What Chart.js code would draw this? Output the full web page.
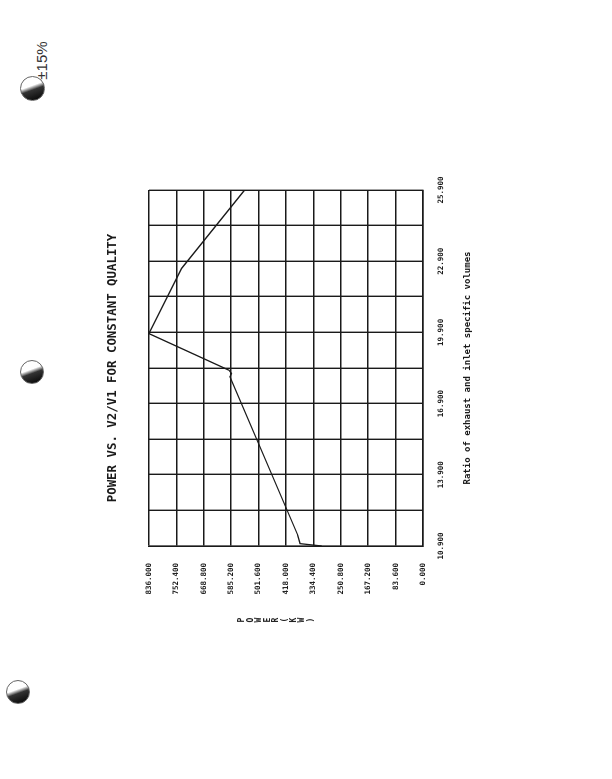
<!DOCTYPE html>
<html>
<head>
<meta charset="utf-8">
<script src="https://cdn.jsdelivr.net/npm/chart.js@4/dist/chart.umd.min.js"></script>
<style>
  html, body { margin: 0; padding: 0; background: #fff; }
  body { width: 612px; height: 779px; position: relative; overflow: hidden; }
  #rot { position: absolute; left: 0; top: 0; width: 779px; height: 612px;
         transform-origin: 0 0; transform: translateY(779px) rotate(-90deg); }
  #rot canvas { position: absolute; left: 0; top: 0; }
  #ytitle { position: absolute; left: 149px; top: 238px; width: 20px; text-align: center;
            font: bold 8px "DejaVu Sans Mono", monospace; line-height: 8.6px; color: #222; }
  .hole { position: absolute; border-radius: 50%; border: 1px solid #666;
          background: linear-gradient(160deg, #fff 0 40%, #333 55%, #000 100%); }
  #note { position: absolute; left: 22px; top: 52px; transform: rotate(-90deg);
          font: 15px "Liberation Sans", sans-serif; color: #333; }
</style>
</head>
<body>
<div class="hole" style="left:20px;top:76px;width:23px;height:23px;"></div>
<div class="hole" style="left:20px;top:360px;width:22px;height:22px;"></div>
<div class="hole" style="left:6px;top:680px;width:22px;height:22px;"></div>
<div id="note">±15%</div>
<div id="rot">
  <canvas id="c" width="779" height="612"></canvas>
  <div id="ytitle"></div>
</div>
<script>
// ---- data ----
const ratioValues = [10.9, 11.0, 11.36, 18.03, 18.17, 18.31, 19.85, 22.6, 25.9];
const powerValues = [309, 375, 382, 589, 584, 592, 836, 736, 544];
const xTickLabels = ['10.900', '13.900', '16.900', '19.900', '22.900', '25.900'];
const yTickLabels = ['0.000', '83.600', '167.200', '250.800', '334.400', '418.000',
                     '501.600', '585.200', '668.800', '752.400', '836.000'];
const titleText = 'POWER VS. V2/V1 FOR CONSTANT QUALITY';
const xAxisTitle = 'Ratio of exhaust and inlet specific volumes';
const yAxisTitleLetters = ['P', 'O', 'W', 'E', 'R', '(', 'K', 'W', ')'];

document.getElementById('ytitle').innerHTML = yAxisTitleLetters.join('<br>');

const points = ratioValues.map((x, i) => ({ x: x, y: powerValues[i] }));
const ink = '#1a1a1a';
const tickFont = { family: 'DejaVu Sans Mono', weight: 'bold', size: 7.5 };

new Chart(document.getElementById('c'), {
  type: 'line',
  data: {
    datasets: [{
      data: points,
      borderColor: ink,
      borderWidth: 1.3,
      pointRadius: 0,
      tension: 0,
      fill: false
    }]
  },
  options: {
    responsive: false,
    animation: false,
    layout: { padding: { left: 176, right: 190, top: 0, bottom: 139 } },
    plugins: {
      legend: { display: false },
      tooltip: { enabled: false },
      title: {
        display: true,
        text: titleText,
        fullSize: false,
        color: ink,
        font: { family: 'DejaVu Sans Mono', weight: 'bold', size: 12.4, lineHeight: 1.2 },
        padding: { top: 105, bottom: 29 }
      }
    },
    scales: {
      x: {
        type: 'linear',
        min: 10.9,
        max: 25.9,
        grid: { color: ink, lineWidth: 1.4, drawTicks: false },
        border: { display: true, color: ink, width: 1.4 },
        ticks: {
          stepSize: 1.5,
          autoSkip: false,
          maxRotation: 0,
          padding: 14,
          color: ink,
          font: tickFont,
          callback: (v, i) => (i % 2 === 0 ? xTickLabels[i / 2] : '')
        },
        title: {
          display: true,
          text: xAxisTitle,
          color: ink,
          font: { family: 'DejaVu Sans Mono', weight: 'bold', size: 9, lineHeight: 1.2 },
          padding: { top: 4, bottom: 0 }
        },
        afterFit: (s) => { s.height = 50; }
      },
      y: {
        type: 'linear',
        min: 0,
        max: 836,
        grid: { color: ink, lineWidth: 1.4, drawTicks: false },
        border: { display: true, color: ink, width: 1.4 },
        ticks: {
          stepSize: 83.6,
          autoSkip: false,
          padding: 17,
          color: ink,
          font: tickFont,
          callback: (v, i) => yTickLabels[i]
        },
        afterFit: (s) => { s.width = 57; }
      }
    }
  }
});
</script>
</body>
</html>
